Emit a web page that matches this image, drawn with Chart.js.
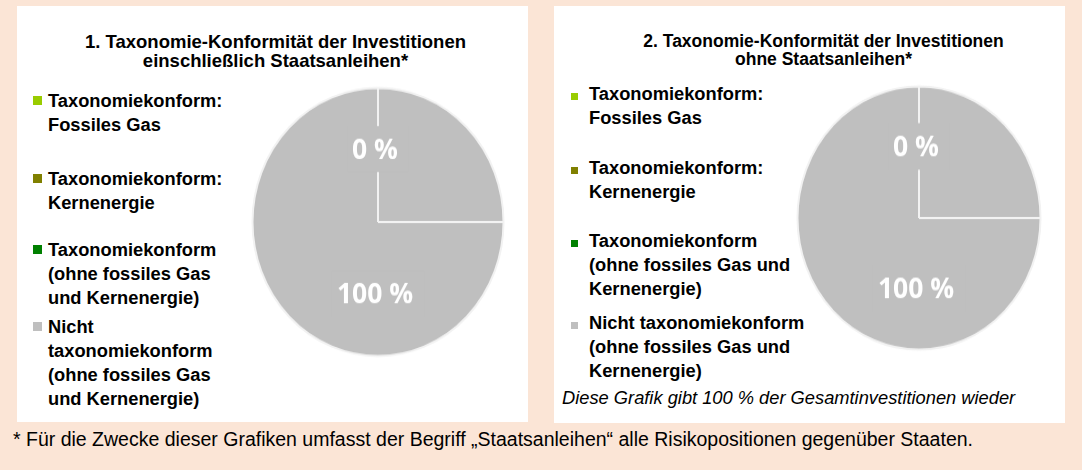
<!DOCTYPE html>
<html lang="de">
<head>
<meta charset="utf-8">
<title>Taxonomie-Konformität der Investitionen</title>
<script src="https://cdn.jsdelivr.net/npm/chart.js@4.4.1/dist/chart.umd.min.js"></script>
<style>
  html, body { margin: 0; padding: 0; }
  body {
    width: 1082px; height: 470px; position: relative; overflow: hidden;
    background: #FBE5D6; color: #000;
    font-family: "Liberation Sans", Arial, Helvetica, sans-serif;
  }
  .panel { position: absolute; top: 6px; width: 511px; height: 416px; background: #fff; }
  #panel1 { left: 17px; }
  #panel2 { left: 554px; height: 417px; }
  .title { position: absolute; top: 26px; width: 511px; text-align: center; font-weight: bold; }
  #panel1 .title { left: 3px; font-size: 18.5px; line-height: 19px; }
  #panel2 .title { left: 14px; font-size: 17.5px; line-height: 18px; }
  .item { position: absolute; font-weight: bold; font-size: 18.3px; line-height: 24px; white-space: nowrap; }
  .swatch { position: absolute; }
  .pie { position: absolute; width: 260px; height: 260px; transform-origin: 50% 50%; }
  .pie canvas { display: block; }
  .note { position: absolute; left: 8px; top: 381px; font-style: italic; font-size: 18.3px; line-height: 22px; white-space: nowrap; }
  .footnote { position: absolute; left: 13px; top: 428px; font-size: 19.5px; line-height: 23px; white-space: nowrap; }
</style>
</head>
<body>
<div class="panel" id="panel1">
  <div class="title">1. Taxonomie-Konformität der Investitionen<br>einschließlich Staatsanleihen*</div>
  <div class="legend" id="legend1"></div>
  <div class="pie" id="pieBox1"><canvas id="pie1" width="260" height="260"></canvas></div>
</div>
<div class="panel" id="panel2">
  <div class="title">2. Taxonomie-Konformität der Investitionen<br>ohne Staatsanleihen*</div>
  <div class="legend" id="legend2"></div>
  <div class="pie" id="pieBox2"><canvas id="pie2" width="260" height="260"></canvas></div>
  <div class="note">Diese Grafik gibt 100 % der Gesamtinvestitionen wieder</div>
</div>
<div class="footnote">* Für die Zwecke dieser Grafiken umfasst der Begriff „Staatsanleihen“ alle Risikopositionen gegenüber Staaten.</div>

<script>
// Categories (order of the pie slices and legend entries)
const categories = [
  'Taxonomiekonform: Fossiles Gas',
  'Taxonomiekonform: Kernenergie',
  'Taxonomiekonform (ohne fossiles Gas und Kernenergie)',
  'Nicht taxonomiekonform (ohne fossiles Gas und Kernenergie)'
];

// Shares in percent
const valuesInclSovereign = [0, 0, 0, 100];
const valuesExclSovereign = [0, 0, 0, 100];

// Slice colours
const sliceColors = ['#99CC00', '#808000', '#008000', '#BFBFBF'];

// Legend lines as they wrap in each panel
const legendLines1 = [
  ['Taxonomiekonform:', 'Fossiles Gas'],
  ['Taxonomiekonform:', 'Kernenergie'],
  ['Taxonomiekonform', '(ohne fossiles Gas', 'und Kernenergie)'],
  ['Nicht', 'taxonomiekonform', '(ohne fossiles Gas', 'und Kernenergie)']
];
const legendLines2 = [
  ['Taxonomiekonform:', 'Fossiles Gas'],
  ['Taxonomiekonform:', 'Kernenergie'],
  ['Taxonomiekonform', '(ohne fossiles Gas und', 'Kernenergie)'],
  ['Nicht taxonomiekonform', '(ohne fossiles Gas und', 'Kernenergie)']
];

// Layout of each panel (pixels inside the white panel)
const layout1 = {
  itemTops: [83, 161, 232, 309], textLeft: 31, swatchLeft: 16, swatchSize: 9, swatchDy: 7,
  pieLeft: 230.7, pieTop: 86, radius: 125.5, stretchY: 1.068
};
const layout2 = {
  itemTops: [76, 150, 223, 305], textLeft: 35, swatchLeft: 17, swatchSize: 7, swatchDy: 11,
  pieLeft: 234.5, pieTop: 81.5, radius: 121.5, stretchY: 1.083
};

const labelFont = '700 26.5px "Open Sans", "Noto Sans", sans-serif';
const labelShiftX = -3;

function buildLegend(el, lines, colors, lay) {
  lines.forEach((ls, i) => {
    const item = document.createElement('div');
    item.className = 'item';
    item.style.left = lay.textLeft + 'px';
    item.style.top = lay.itemTops[i] + 'px';
    item.innerHTML = ls.join('<br>');
    el.appendChild(item);
    const sw = document.createElement('div');
    sw.className = 'swatch';
    sw.style.left = lay.swatchLeft + 'px';
    sw.style.top = (lay.itemTops[i] + lay.swatchDy) + 'px';
    sw.style.width = sw.style.height = lay.swatchSize + 'px';
    sw.style.background = colors[i];
    el.appendChild(sw);
  });
}

// Draws the quadrant guide and the percentage labels on top of the slices
const pieDecor = {
  id: 'pieDecor',
  afterDatasetsDraw(chart) {
    const ctx = chart.ctx;
    const meta = chart.getDatasetMeta(0);
    const ds = chart.data.datasets[0];
    const ref = meta.data[0];
    const cx = ref.x, cy = ref.y, R = ref.outerRadius;

    ctx.save();
    ctx.strokeStyle = '#F2F2F2';
    ctx.lineWidth = 2;
    ctx.beginPath();
    ctx.moveTo(cx, cy);
    ctx.lineTo(cx + R, cy);
    ctx.stroke();

    // label box colour = colour of the largest slice underneath
    let maxIdx = 0;
    ds.data.forEach((v, i) => { if (v > ds.data[maxIdx]) maxIdx = i; });
    const boxColor = ds.backgroundColor[maxIdx];

    ctx.font = labelFont;
    ctx.textAlign = 'center';
    ctx.textBaseline = 'middle';
    const seen = new Set();
    meta.data.forEach((arc, i) => {
      const mid = (arc.startAngle + arc.endAngle) / 2;
      const r = R * 0.54;
      const x = cx + Math.cos(mid) * r;
      const y = cy + Math.sin(mid) * r;
      const key = Math.round(x) + ',' + Math.round(y);
      if (seen.has(key)) return;
      seen.add(key);
      const txt = ds.data[i] + ' %';
      const w = ctx.measureText(txt).width;
      ctx.fillStyle = boxColor;
      ctx.fillRect(x - w / 2 - 8, y - 22, w + 16, 43);
      ctx.fillStyle = '#FFFFFF';
      ctx.fillText(txt, x + labelShiftX, y + 1);
    });
    ctx.restore();
  }
};

function buildPie(canvasId, boxId, values, lay) {
  const box = document.getElementById(boxId);
  box.style.left = lay.pieLeft + 'px';
  box.style.top = lay.pieTop + 'px';
  box.style.transform = 'scale(1,' + lay.stretchY + ')';
  return new Chart(document.getElementById(canvasId), {
    type: 'pie',
    data: {
      labels: categories,
      datasets: [{
        data: values,
        backgroundColor: sliceColors,
        borderColor: '#F2F2F2',
        borderWidth: 2
      }]
    },
    options: {
      responsive: false,
      animation: false,
      radius: lay.radius,
      layout: { padding: 0 },
      plugins: { legend: { display: false }, tooltip: { enabled: false } }
    },
    plugins: [pieDecor]
  });
}

buildLegend(document.getElementById('legend1'), legendLines1, sliceColors, layout1);
buildLegend(document.getElementById('legend2'), legendLines2, sliceColors, layout2);

function drawPies() {
  buildPie('pie1', 'pieBox1', valuesInclSovereign, layout1);
  buildPie('pie2', 'pieBox2', valuesExclSovereign, layout2);
}
if (document.fonts && document.fonts.load) {
  document.fonts.load(labelFont, '0 %').then(drawPies, drawPies);
} else {
  drawPies();
}
</script>
</body>
</html>
